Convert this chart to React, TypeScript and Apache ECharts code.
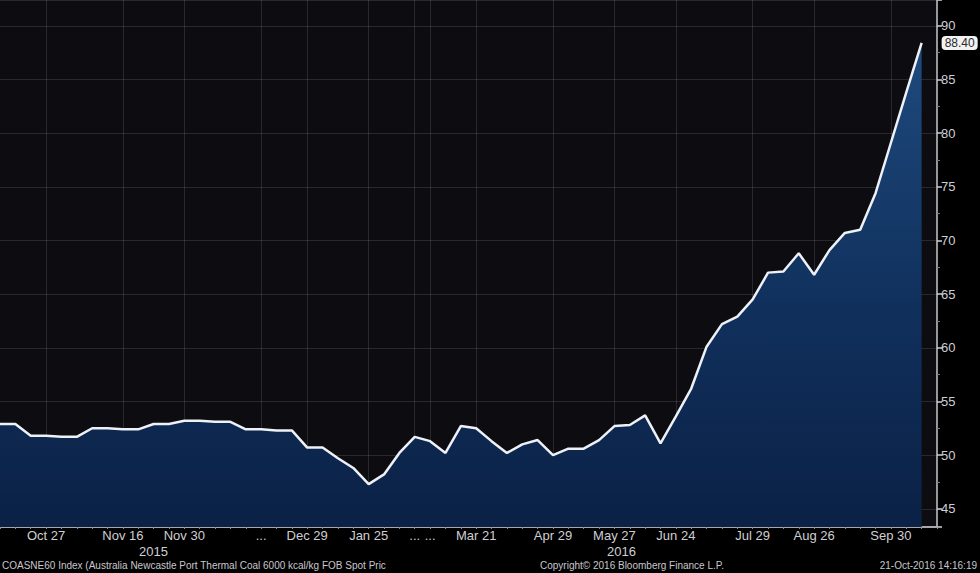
import React, { useEffect, useRef } from "react";
import * as echarts from "echarts";

const dates = [
  "2015-10-14", "2015-10-19", "2015-10-23", "2015-10-27", "2015-10-30", "2015-11-03", "2015-11-06",
  "2015-11-11", "2015-11-16", "2015-11-19", "2015-11-23", "2015-11-26", "2015-11-30", "2015-12-03",
  "2015-12-07", "2015-12-10", "2015-12-14", "2015-12-17", "2015-12-21", "2015-12-24", "2015-12-29",
  "2016-01-04", "2016-01-11", "2016-01-18", "2016-01-25", "2016-02-01", "2016-02-08", "2016-02-15",
  "2016-02-22", "2016-03-07", "2016-03-14", "2016-03-21", "2016-03-28", "2016-04-08", "2016-04-15",
  "2016-04-22", "2016-04-29", "2016-05-06", "2016-05-13", "2016-05-20", "2016-05-27", "2016-06-03",
  "2016-06-10", "2016-06-17", "2016-06-24", "2016-07-01", "2016-07-08", "2016-07-15", "2016-07-22",
  "2016-07-29", "2016-08-05", "2016-08-12", "2016-08-19", "2016-08-26", "2016-09-02", "2016-09-09",
  "2016-09-16", "2016-09-23", "2016-09-30", "2016-10-07", "2016-10-14", "2016-10-21",
];

const prices = [
  52.9, 52.9, 51.8, 51.8, 51.7, 51.7, 52.5, 52.5, 52.4, 52.4,
  52.9, 52.9, 53.2, 53.2, 53.1, 53.1, 52.4, 52.4, 52.3, 52.3,
  50.7, 50.7, 49.7, 48.8, 47.3, 48.2, 50.2, 51.7, 51.3, 50.2,
  52.7, 52.5, 51.3, 50.2, 51.0, 51.4, 50.0, 50.6, 50.6, 51.4,
  52.7, 52.8, 53.7, 51.1, 53.6, 56.2, 60.1, 62.2, 62.9, 64.5,
  67.0, 67.1, 68.8, 66.8, 69.1, 70.7, 71.0, 74.4, 79.1, 83.8,
  88.4,
];

const tickDates = [
  "2015-10-27", "2015-11-16", "2015-11-30", "2015-12-29", "2016-01-25", "2016-03-21",
  "2016-04-29", "2016-05-27", "2016-06-24", "2016-07-29", "2016-08-26", "2016-09-30",
];
const elidedDates = ["2015-12-17", "2016-02-15", "2016-02-22"];
const yearLabels = ["2015", "2016"];
const lastValueLabel = "88.40";
const footerSource = "COASNE60 Index (Australia Newcastle Port Thermal Coal 6000 kcal/kg FOB Spot Pric";
const footerCopyright = "Copyright\u00A9 2016 Bloomberg Finance L.P.";
const footerStamp = "21-Oct-2016 14:16:19";

const MONTHS = ["Jan", "Feb", "Mar", "Apr", "May", "Jun", "Jul", "Aug", "Sep", "Oct", "Nov", "Dec"];
const fmtDate = (iso: string) => {
  const [, m, d] = iso.split("-");
  return MONTHS[parseInt(m, 10) - 1] + " " + parseInt(d, 10);
};
const isMarked = (v: string) => tickDates.includes(v) || elidedDates.includes(v);

const FONT = "'Liberation Sans Narrow', 'Liberation Sans', Arial, sans-serif";

export default function App() {
  const ref = useRef<HTMLDivElement>(null);

  useEffect(() => {
    document.body.style.margin = "0";
    document.body.style.background = "#000";
    if (!ref.current) return;
    const chart = echarts.init(ref.current, undefined, { renderer: "svg" });

    const option: any = {
      animation: false,
      backgroundColor: "#000",
      grid: { left: 0, right: 43, top: 0, bottom: 46, show: true, backgroundColor: "#0c0c11", borderWidth: 0 },
      xAxis: {
        type: "category",
        data: dates,
        boundaryGap: false,
        axisLine: { show: true, lineStyle: { color: "#a9a9ad", width: 2 } },
        axisTick: { show: true, interval: 0, length: 2, lineStyle: { color: "#8a8a90" } },
        axisLabel: {
          interval: (_i: number, v: string) => isMarked(v),
          formatter: (v: string) => (elidedDates.includes(v) ? "..." : fmtDate(v)),
          color: "#cfcfd3",
          fontSize: 13,
          lineHeight: 13,
          fontFamily: FONT,
          margin: 2,
        },
        splitLine: {
          show: true,
          interval: (_i: number, v: string) => isMarked(v),
          lineStyle: { color: "rgba(255,255,255,0.12)", width: 1 },
        },
      },
      yAxis: {
        type: "value",
        position: "right",
        min: 43.3,
        max: 92.4,
        splitNumber: 10,
        axisLine: { show: true, lineStyle: { color: "#c8c8cc", width: 1.5 } },
        axisTick: { show: true, length: 5, lineStyle: { color: "#d0d0d4", width: 1.5 } },
        minorTick: { show: true, splitNumber: 2, length: 3, lineStyle: { color: "#7a7a80" } },
        axisLabel: {
          showMinLabel: false,
          showMaxLabel: false,
          formatter: (v: number) => (Math.abs(v % 5) < 1e-6 ? String(v) : ""),
          color: "#cfcfd3",
          fontSize: 13,
          fontFamily: FONT,
          margin: 4,
        },
        splitLine: { show: true, lineStyle: { color: "rgba(255,255,255,0.12)", width: 1 } },
      },
      series: [
        {
          type: "line",
          data: prices,
          symbol: "none",
          lineStyle: { color: "#eef1f6", width: 2.5 },
          areaStyle: {
            color: new echarts.graphic.LinearGradient(0, 0, 0, 1, [
              { offset: 0, color: "#1e4a7e" },
              { offset: 0.55, color: "#10305c" },
              { offset: 1, color: "#0b2146" },
            ]),
            opacity: 1,
          },
          endLabel: {
            show: true,
            formatter: () => lastValueLabel,
            distance: 20,
            backgroundColor: "#f2f2f2",
            color: "#2a2a2a",
            borderRadius: 4,
            padding: [1, 3, 1, 3],
            fontSize: 12,
            fontFamily: FONT,
          },
        },
      ],
      graphic: [
        { type: "text", left: 139, top: 545, style: { text: yearLabels[0], fill: "#cfcfd3", font: `13px ${FONT}` } },
        { type: "text", left: 607, top: 545, style: { text: yearLabels[1], fill: "#cfcfd3", font: `13px ${FONT}` } },
        { type: "text", left: 2, top: 560, style: { text: footerSource, fill: "#c8c8cc", font: `10px ${FONT}` } },
        { type: "text", left: 540, top: 560, style: { text: footerCopyright, fill: "#c8c8cc", font: `10px ${FONT}` } },
        { type: "text", right: 3, top: 560, style: { text: footerStamp, fill: "#c8c8cc", font: `10px ${FONT}` } },
      ],
    };

    chart.setOption(option);
    return () => chart.dispose();
  }, []);

  return <div ref={ref} style={{ position: "absolute", left: 0, top: 0, width: 980, height: 573, background: "#000" }} />;
}
